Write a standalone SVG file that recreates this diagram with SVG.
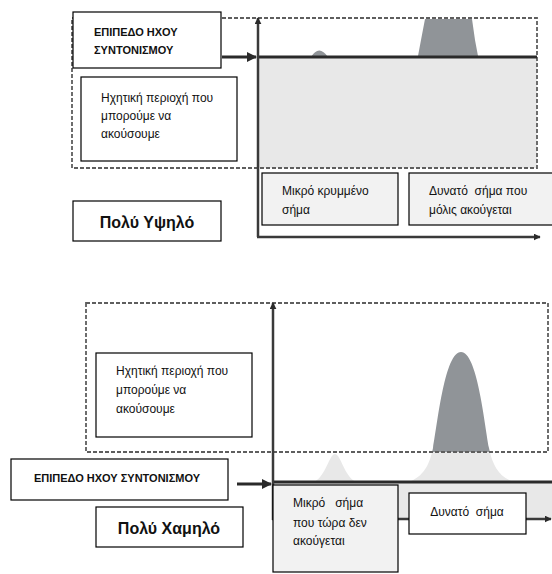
<svg xmlns="http://www.w3.org/2000/svg" width="552" height="574" viewBox="0 0 552 574">
<style>
.box{fill:#fff;stroke:#000;stroke-width:1.2}
.sbox{fill:#f2f2f2;stroke:#000;stroke-width:1.2}
.dash{fill:none;stroke:#5e5e5e;stroke-width:1.8;stroke-dasharray:4 2}
.axis{fill:none;stroke:#3a3a3a;stroke-width:2.5}
.lvl{fill:none;stroke:#2a2a2a;stroke-width:3}
.t{font-family:"Liberation Sans",Arial,sans-serif;font-size:12px;fill:#111}
.b{font-family:"Liberation Sans",Arial,sans-serif;font-size:11px;font-weight:bold;fill:#111}
.big{font-family:"Liberation Sans",Arial,sans-serif;font-size:16px;font-weight:bold;fill:#111;text-anchor:middle}
.dark{fill:#909498}
.light{fill:#e8e8e8}
</style>
<defs>
<marker id="ah" viewBox="0 0 10 10" refX="9" refY="5" markerWidth="12" markerHeight="10" orient="auto" markerUnits="userSpaceOnUse">
<path d="M0,0 L10,5 L0,10 Z" fill="#2a2a2a"/>
</marker>
<marker id="as" viewBox="0 0 10 10" refX="9" refY="5" markerWidth="7" markerHeight="7" orient="auto" markerUnits="userSpaceOnUse">
<path d="M0,0 L10,5 L0,10 Z" fill="#2a2a2a"/>
</marker>
<clipPath id="above"><rect x="273" y="303" width="276" height="149"/></clipPath>
<clipPath id="below"><rect x="273" y="452" width="279" height="30"/></clipPath>
</defs>

<g id="top-panel">
<rect x="258" y="57" width="279" height="111" class="light"/>
<path class="dark" d="M418 56 L421 40 L425 19 L472 19 L475 40 L478 56 Z"/>
<path class="dark" d="M311 57 Q319 44 328 57 Z"/>
<rect x="72" y="18" width="465" height="150" class="dash"/>
</g>

<g id="bottom-panel">
<rect x="273" y="482" width="279" height="37" class="light"/>
<g clip-path="url(#below)">
<path class="light" d="M405 483 C425 478 430 462 433 448 C438 420 445 352 461 352 C477 352 484 420 489 448 C492 462 497 478 517 483 Z"/>
<path class="light" d="M312 483 C326 478 329 454 335 454 C341 454 344 478 358 483 Z"/>
</g>
<g clip-path="url(#above)">
<path class="dark" d="M405 483 C425 478 430 462 433 448 C438 420 445 352 461 352 C477 352 484 420 489 448 C492 462 497 478 517 483 Z"/>
</g>
<rect x="86" y="303" width="462" height="149" class="dash"/>
</g>

<g id="connectors">
<line class="lvl" x1="258" y1="57" x2="537" y2="57"/>
<line class="axis" x1="258" y1="237" x2="258" y2="18" marker-end="url(#as)"/>
<line class="axis" x1="257" y1="237" x2="540" y2="237" marker-end="url(#as)"/>
<line class="lvl" x1="222" y1="57" x2="256" y2="57" marker-end="url(#ah)"/>

<line class="lvl" x1="273" y1="482" x2="552" y2="482"/>
<line class="axis" x1="273" y1="520" x2="273" y2="303" marker-end="url(#as)"/>
<line class="axis" x1="272" y1="519" x2="551" y2="519" marker-end="url(#as)"/>
<line class="lvl" x1="237" y1="484" x2="271" y2="484" marker-end="url(#ah)"/>
</g>

<g id="n-level-top">
<rect class="box" x="73" y="12" width="148" height="56"/>
<text class="b" x="94" y="36">ΕΠΙΠΕΔΟ ΗΧΟΥ</text>
<text class="b" x="94" y="54">ΣΥΝΤΟΝΙΣΜΟΥ</text>
</g>

<g id="n-audible-top">
<rect class="box" x="81" y="77" width="156" height="84"/>
<text class="t" x="101" y="102">Ηχητική περιοχή που</text>
<text class="t" x="101" y="120">μπορούμε να</text>
<text class="t" x="101" y="138">ακούσουμε</text>
</g>

<g id="n-hidden-top">
<rect class="sbox" x="262" y="173" width="136" height="52"/>
<text class="t" x="282" y="195">Μικρό κρυμμένο</text>
<text class="t" x="282" y="214">σήμα</text>
</g>

<g id="n-strong-top">
<rect class="sbox" x="409" y="173" width="160" height="52"/>
<text class="t" x="429" y="195" xml:space="preserve">Δυνατό  σήμα που</text>
<text class="t" x="429" y="214">μόλις ακούγεται</text>
</g>

<g id="n-high">
<rect class="box" x="73" y="201" width="148" height="40"/>
<text class="big" x="147" y="228">Πολύ Υψηλό</text>
</g>

<g id="n-audible-bottom">
<rect class="box" x="96" y="353" width="156" height="84"/>
<text class="t" x="116" y="375">Ηχητική περιοχή που</text>
<text class="t" x="116" y="394">μπορούμε να</text>
<text class="t" x="116" y="413">ακούσουμε</text>
</g>

<g id="n-level-bottom">
<rect class="box" x="11" y="459" width="217" height="41"/>
<text class="b" x="117" y="482" text-anchor="middle">ΕΠΙΠΕΔΟ ΗΧΟΥ ΣΥΝΤΟΝΙΣΜΟΥ</text>
</g>

<g id="n-low">
<rect class="box" x="96" y="507" width="147" height="40"/>
<text class="big" x="169" y="534">Πολύ Χαμηλό</text>
</g>

<g id="n-small-bottom">
<rect class="sbox" x="273" y="485" width="125" height="87"/>
<text class="t" x="293" y="507" xml:space="preserve">Μικρό   σήμα</text>
<text class="t" x="293" y="527">που τώρα δεν</text>
<text class="t" x="293" y="545">ακούγεται</text>
</g>

<g id="n-strong-bottom">
<rect class="box" x="409" y="493" width="117" height="41"/>
<text class="t" x="467" y="516" text-anchor="middle" xml:space="preserve">Δυνατό  σήμα</text>
</g>
</svg>
